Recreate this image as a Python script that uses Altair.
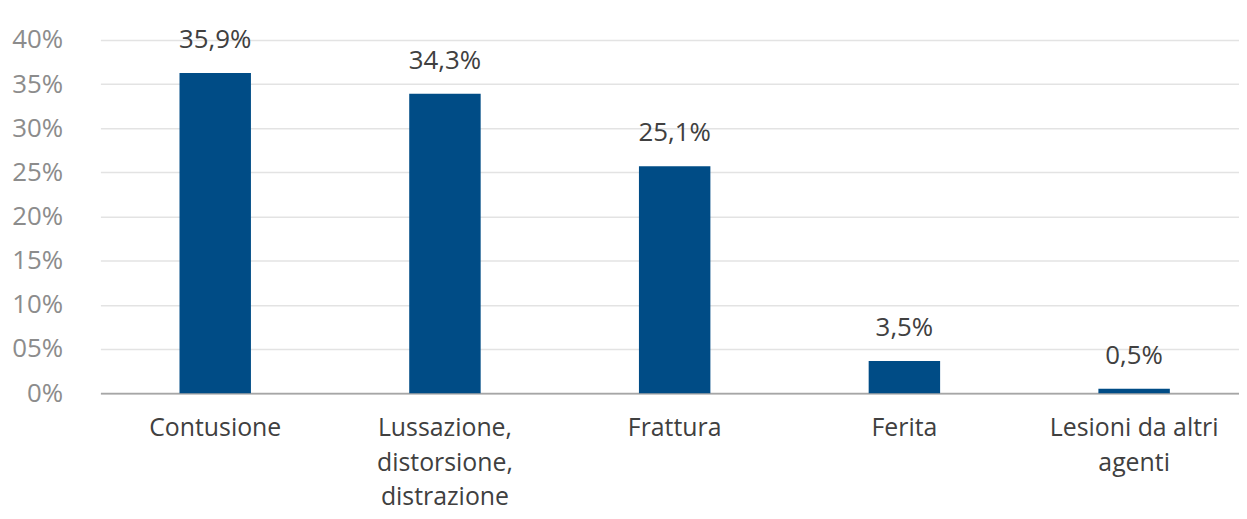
import altair as alt
import pandas as pd

categories = ["Contusione", "Lussazione, distorsione, distrazione", "Frattura", "Ferita", "Lesioni da altri agenti"]
label_lines = [["Contusione"], ["Lussazione,", "distorsione,", "distrazione"], ["Frattura"], ["Ferita"], ["Lesioni da altri", "agenti"]]
bar_values = [36.25, 33.9, 25.7, 3.65, 0.5]
value_labels = ["35,9%", "34,3%", "25,1%", "3,5%", "0,5%"]
y_ticks = [0, 5, 10, 15, 20, 25, 30, 35, 40]

df = pd.DataFrame({"cat": categories, "val": bar_values, "lab": value_labels})

FONT = "Open Sans"
BLUE = "#004C86"

mapping = "{" + ",".join(
    "'" + c + "':[" + ",".join("'" + l + "'" for l in ls) + "]" for c, ls in zip(categories, label_lines)
) + "}"

x = alt.X(
    "cat:N",
    sort=categories,
    title=None,
    scale=alt.Scale(range=[0, 1156], paddingInner=0.689, paddingOuter=0.3443),
    axis=alt.Axis(
        labelAngle=0,
        labelFont=FONT,
        labelFontSize=25,
        labelColor="#404040",
        labelPadding=23,
        labelLineHeight=34.5,
        labelExpr=mapping + "[datum.value]",
        ticks=False,
        domainColor="#A6A6A6",
        domainWidth=2,
        grid=False,
        labelLimit=400,
    ),
)

y = alt.Y(
    "val:Q",
    title=None,
    scale=alt.Scale(domain=[0, 40], nice=False),
    axis=alt.Axis(
        values=y_ticks,
        labelExpr="datum.value == 0 ? '0%' : (datum.value < 10 ? '0' + datum.value + '%' : datum.value + '%')",
        labelFont=FONT,
        labelFontSize=26,
        labelColor="#8C8C8C",
        labelPadding=38,
        ticks=False,
        domain=False,
        gridColor="#E3E3E3",
        gridWidth=1.5,
        labelBaseline="middle",
    ),
)

bars = alt.Chart(df).mark_bar(color=BLUE).encode(x=x, y=y)
labels = alt.Chart(df).mark_text(
    font=FONT, fontSize=26, color="#404040", baseline="alphabetic", dy=-25
).encode(x=alt.X("cat:N", sort=categories), y="val:Q", text="lab:N")

chart = (bars + labels).properties(
    width=1146,
    height=355.5,
    autosize=alt.AutoSizeParams(type="none"),
    padding={"left": 93, "top": 30.5, "right": 0, "bottom": 117},
).configure_view(stroke=None)

chart.save("out.html", embed_options={"renderer": "svg", "actions": False})
